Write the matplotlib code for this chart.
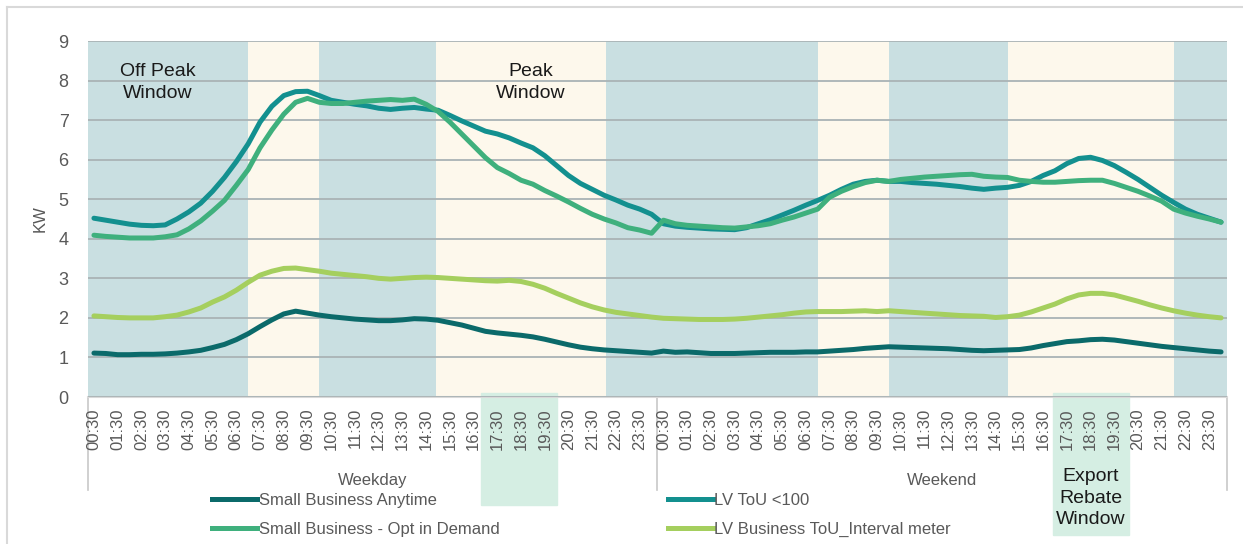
import numpy as np
import matplotlib
matplotlib.use("Agg")
import matplotlib.pyplot as plt
from matplotlib.patches import Rectangle
from matplotlib.lines import Line2D

plt.rcParams['font.family'] = ['Liberation Sans', 'DejaVu Sans']

# half-hourly time labels, 00:30 ... 00:00 (48 per day)
times = ["%02d:%02d" % (((k + 1) * 30 // 60) % 24, ((k + 1) * 30) % 60) for k in range(48)]
groups = ["Weekday", "Weekend"]

sb_anytime = [1.11, 1.10, 1.07, 1.07, 1.08, 1.08, 1.09, 1.11, 1.14, 1.18, 1.25, 1.33,
              1.45, 1.60, 1.78, 1.95, 2.10, 2.17, 2.12, 2.07, 2.03, 2.00, 1.97, 1.95,
              1.93, 1.93, 1.95, 1.98, 1.97, 1.94, 1.88, 1.82, 1.74, 1.66, 1.62, 1.59,
              1.56, 1.52, 1.46, 1.39, 1.32, 1.26, 1.22, 1.19, 1.17, 1.15, 1.13, 1.11,
              1.16, 1.13, 1.14, 1.12, 1.10, 1.10, 1.10, 1.11, 1.12, 1.13, 1.13, 1.13,
              1.14, 1.14, 1.16, 1.18, 1.20, 1.23, 1.25, 1.27, 1.26, 1.25, 1.24, 1.23,
              1.22, 1.20, 1.18, 1.17, 1.18, 1.19, 1.20, 1.24, 1.30, 1.35, 1.40, 1.42,
              1.45, 1.46, 1.44, 1.40, 1.36, 1.32, 1.28, 1.25, 1.22, 1.19, 1.16, 1.14]

lv_tou_100 = [4.52, 4.47, 4.42, 4.37, 4.34, 4.33, 4.35, 4.50, 4.68, 4.90, 5.20, 5.55,
              5.95, 6.40, 6.95, 7.35, 7.62, 7.72, 7.73, 7.62, 7.50, 7.45, 7.40, 7.36,
              7.30, 7.27, 7.30, 7.32, 7.28, 7.25, 7.12, 6.98, 6.85, 6.72, 6.65, 6.55,
              6.42, 6.30, 6.10, 5.85, 5.60, 5.40, 5.25, 5.10, 4.98, 4.85, 4.75, 4.62,
              4.38, 4.32, 4.29, 4.27, 4.25, 4.24, 4.23, 4.28, 4.38, 4.48, 4.60, 4.72,
              4.85, 4.97, 5.10, 5.25, 5.38, 5.45, 5.48, 5.45, 5.45, 5.42, 5.40, 5.38,
              5.35, 5.32, 5.28, 5.25, 5.28, 5.30, 5.35, 5.45, 5.60, 5.72, 5.90, 6.03,
              6.06, 5.98, 5.85, 5.68, 5.50, 5.30, 5.10, 4.92, 4.75, 4.62, 4.52, 4.42]

sb_opt_demand = [4.09, 4.06, 4.04, 4.02, 4.02, 4.02, 4.05, 4.10, 4.25, 4.45, 4.70, 4.97,
                 5.35, 5.75, 6.30, 6.75, 7.15, 7.45, 7.55, 7.45, 7.42, 7.42, 7.45, 7.48,
                 7.50, 7.52, 7.50, 7.53, 7.40, 7.22, 6.95, 6.65, 6.35, 6.05, 5.80, 5.65,
                 5.48, 5.38, 5.22, 5.08, 4.93, 4.77, 4.62, 4.50, 4.40, 4.28, 4.22, 4.14,
                 4.47, 4.38, 4.34, 4.32, 4.30, 4.28, 4.27, 4.30, 4.33, 4.38, 4.47, 4.55,
                 4.65, 4.75, 5.05, 5.20, 5.32, 5.42, 5.48, 5.45, 5.50, 5.53, 5.56, 5.58,
                 5.60, 5.62, 5.63, 5.58, 5.56, 5.55, 5.48, 5.45, 5.43, 5.43, 5.45, 5.47,
                 5.48, 5.48, 5.40, 5.30, 5.20, 5.08, 4.95, 4.75, 4.65, 4.57, 4.50, 4.42]

lv_bus_interval = [2.05, 2.03, 2.01, 2.00, 2.00, 2.00, 2.03, 2.07, 2.15, 2.25, 2.40, 2.53,
                   2.70, 2.90, 3.08, 3.18, 3.25, 3.26, 3.22, 3.18, 3.13, 3.10, 3.07, 3.04,
                   3.00, 2.98, 3.00, 3.02, 3.03, 3.02, 3.00, 2.98, 2.96, 2.94, 2.93, 2.95,
                   2.92, 2.85, 2.75, 2.62, 2.50, 2.38, 2.28, 2.20, 2.14, 2.10, 2.06, 2.02,
                   1.99, 1.98, 1.97, 1.96, 1.96, 1.96, 1.97, 1.99, 2.02, 2.05, 2.08, 2.12,
                   2.15, 2.16, 2.16, 2.16, 2.17, 2.18, 2.16, 2.18, 2.16, 2.14, 2.12, 2.10,
                   2.08, 2.06, 2.05, 2.04, 2.01, 2.03, 2.07, 2.15, 2.25, 2.35, 2.48, 2.58,
                   2.62, 2.62, 2.58, 2.50, 2.42, 2.33, 2.25, 2.18, 2.12, 2.07, 2.03, 2.00]

# tariff window edges in slot units (across weekday + weekend)
window_edges = [-0.5, 13, 19, 28.8, 43.2, 61, 67, 77, 91, 95.5]
window_types = ["off", "peak", "off", "peak", "off", "peak", "off", "peak", "off"]
export_windows = [(32.6, 39.0), (80.8, 87.2)]

series = [
    ("Small Business Anytime", sb_anytime, "#0b6a6a"),
    ("Small Business - Opt in Demand", sb_opt_demand, "#3fb07d"),
    ("LV ToU <100", lv_tou_100, "#13908f"),
    ("LV Business ToU_Interval meter", lv_bus_interval, "#a5cf5e"),
]

W, H = 1243, 544
fig = plt.figure(figsize=(W / 100, H / 100), dpi=100)
ax = fig.add_axes([88 / W, 1 - 397 / H, (1227 - 88) / W, (397 - 41) / H])

n = len(sb_anytime)
x = np.arange(n)
band_col = {"off": "#c9dfe1", "peak": "#fdf8ec"}
for a, b, w in zip(window_edges[:-1], window_edges[1:], window_types):
    ax.axvspan(a, b, ymin=0, ymax=1, color=band_col[w], zorder=0, linewidth=0)

ax.set_xlim(-0.5, n - 0.5)
ax.set_ylim(0, 9)
ax.set_yticks(range(10))
ax.grid(axis='y', color='#a9b3b5', linewidth=1.3, zorder=1)
ax.set_axisbelow(False)

for name, vals, col in [series[0], series[2], series[1], series[3]]:
    ax.plot(x, vals, color=col, linewidth=3.6, solid_capstyle='round', zorder=3)

for s in ['top', 'right', 'left']:
    ax.spines[s].set_visible(False)
ax.spines['bottom'].set_color('#d9d9d9')
ax.spines['bottom'].set_linewidth(1.5)

ax.set_xticks(x[::2])
ax.set_xticklabels(times[::2] * 2, rotation=90)
ax.tick_params(axis='x', length=0, pad=8, labelsize=12, labelcolor='#595959')
ax.tick_params(axis='y', length=0, pad=14, labelsize=13, labelcolor='#595959')
ax.set_ylabel("KW", fontsize=12, color='#595959', labelpad=8)

trans = ax.get_xaxis_transform()
# export rebate windows under the axis
for (a, b), bottom in zip(export_windows, [-0.303, -0.388]):
    ax.add_patch(Rectangle((a, bottom), b - a, 0.012 - bottom,
                           transform=trans, color='#d5eee3', clip_on=False, zorder=0.5))

# group separators and labels
for gx in [-0.5, 47.5, 95.5]:
    ax.add_line(Line2D([gx, gx], [0, -0.26], transform=trans, color='#c8c8c8',
                       linewidth=1.2, clip_on=False))
for gi, g in enumerate(groups):
    ax.text(gi * 48 + 23.5, -0.235, g, transform=trans, ha='center', va='center',
            fontsize=12, color='#595959')

ax.text(5.4, 7.95, "Off Peak\nWindow", ha='center', va='center', fontsize=14,
        color='#1a1a1a', linespacing=1.35)
ax.text(36.8, 7.95, "Peak\nWindow", ha='center', va='center', fontsize=14,
        color='#1a1a1a', linespacing=1.35)
ax.text(84.0, -0.284, "Export\nRebate\nWindow", transform=trans, ha='center', va='center',
        fontsize=14, color='#1a1a1a', linespacing=1.35)

handles = [Line2D([], [], color=c, linewidth=3.6) for _, _, c in series]
labels = [nm for nm, _, _ in series]
fig.legend(handles, labels, ncol=2, loc='upper left', bbox_to_anchor=(197 / W, 1 - 478 / H),
           frameon=False, fontsize=12, labelcolor='#595959', handlelength=2.7,
           handletextpad=0.1, columnspacing=10.1, labelspacing=0.85)

# light frame around the figure
fig.add_artist(Line2D([7 / W, 1], [1 - 7 / H, 1 - 7 / H], transform=fig.transFigure,
                      color='#d9d9d9', linewidth=1.5))
fig.add_artist(Line2D([7 / W, 7 / W], [0, 1 - 7 / H], transform=fig.transFigure,
                      color='#d9d9d9', linewidth=1.5))

fig.savefig("out.png", dpi=100)
